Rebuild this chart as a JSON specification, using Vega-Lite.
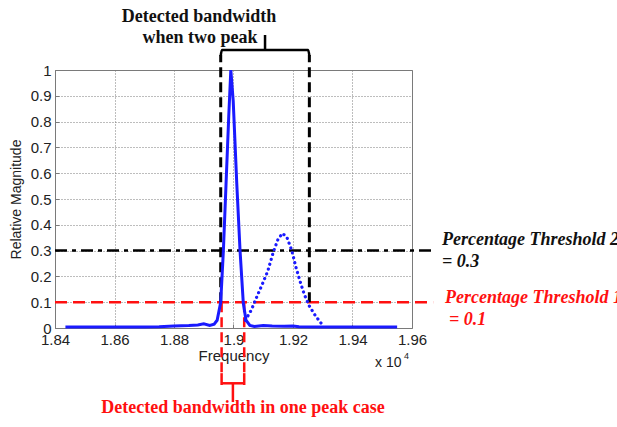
{
  "$schema": "https://vega.github.io/schema/vega-lite/v6.json",
  "width": 357,
  "height": 258,
  "autosize": {"type": "none"},
  "padding": {"left": 55, "top": 70, "right": 205, "bottom": 99},
  "background": "white",
  "config": {
    "view": {"stroke": "#7a7a7a", "strokeWidth": 1},
    "font": "Liberation Sans"
  },
  "datasets": {
    "main": [
      {"f": 1.8435, "v": 0.004}, {"f": 1.85, "v": 0.004}, {"f": 1.86, "v": 0.004},
      {"f": 1.87, "v": 0.004}, {"f": 1.875, "v": 0.005}, {"f": 1.88, "v": 0.008},
      {"f": 1.885, "v": 0.01}, {"f": 1.888, "v": 0.012}, {"f": 1.89, "v": 0.016},
      {"f": 1.892, "v": 0.01}, {"f": 1.8935, "v": 0.015}, {"f": 1.8945, "v": 0.03},
      {"f": 1.8957, "v": 0.1}, {"f": 1.8966, "v": 0.3}, {"f": 1.8975, "v": 0.56},
      {"f": 1.8984, "v": 0.82}, {"f": 1.8991, "v": 1.0}, {"f": 1.8999, "v": 0.88},
      {"f": 1.9011, "v": 0.56}, {"f": 1.9022, "v": 0.3}, {"f": 1.9033, "v": 0.096},
      {"f": 1.9042, "v": 0.03}, {"f": 1.9055, "v": 0.01}, {"f": 1.907, "v": 0.006},
      {"f": 1.91, "v": 0.01}, {"f": 1.913, "v": 0.008}, {"f": 1.917, "v": 0.007},
      {"f": 1.92, "v": 0.008}, {"f": 1.922, "v": 0.005}, {"f": 1.93, "v": 0.004},
      {"f": 1.94, "v": 0.004}, {"f": 1.955, "v": 0.004}
    ],
    "dotted": [
      {"f": 1.904, "v": 0.03}, {"f": 1.906, "v": 0.07}, {"f": 1.9078, "v": 0.12},
      {"f": 1.9095, "v": 0.165}, {"f": 1.9115, "v": 0.22}, {"f": 1.9134, "v": 0.295},
      {"f": 1.915, "v": 0.345}, {"f": 1.9165, "v": 0.367}, {"f": 1.918, "v": 0.35},
      {"f": 1.9196, "v": 0.3}, {"f": 1.921, "v": 0.235}, {"f": 1.9224, "v": 0.18},
      {"f": 1.9238, "v": 0.13}, {"f": 1.9255, "v": 0.085}, {"f": 1.9274, "v": 0.05},
      {"f": 1.929, "v": 0.025}, {"f": 1.9302, "v": 0.008}
    ],
    "thr2": [{"f": 1.84, "f2": 1.9671, "v": 0.3}],
    "thr1": [{"f": 1.84, "f2": 1.9671, "v": 0.1}],
    "blackV": [
      {"f": 1.8957, "v": 0.1, "v2": 1.058},
      {"f": 1.9255, "v": 0.1, "v2": 1.058}
    ],
    "blackBracket": [
      {"o": 1, "f": 1.8957, "v": 1.055},
      {"o": 2, "f": 1.8961, "v": 1.0775},
      {"o": 3, "f": 1.9251, "v": 1.0775},
      {"o": 4, "f": 1.9255, "v": 1.055}
    ],
    "blackStem": [{"f": 1.9106, "v": 1.0775, "v2": 1.1357}],
    "redV": [
      {"f": 1.896, "v": 0.1, "v2": -0.175},
      {"f": 1.9036, "v": 0.1, "v2": -0.175}
    ],
    "redBracketEnds": [
      {"f": 1.896, "v": -0.175, "v2": -0.221},
      {"f": 1.9036, "v": -0.175, "v2": -0.221}
    ],
    "redBracketBar": [{"f": 1.896, "f2": 1.9036, "v": -0.2143}],
    "redStem": [{"f": 1.8998, "v": -0.2143, "v2": -0.287}],
    "topText": [
      {"f": 1.8884, "v": 1.2054, "t": "Detected bandwidth"},
      {"f": 1.8887, "v": 1.124, "t": "when two peak"}
    ],
    "blackLabels": [
      {"f": 1.9701, "v": 0.341, "t": "Percentage Threshold 2"},
      {"f": 1.9701, "v": 0.256, "t": "= 0.3"}
    ],
    "redLabels": [
      {"f": 1.9711, "v": 0.116, "t": "Percentage Threshold 1"},
      {"f": 1.9724, "v": 0.031, "t": "= 0.1"}
    ],
    "bottomText": [{"f": 1.9032, "v": -0.31, "t": "Detected bandwidth in one peak case"}],
    "expText": [{"f": 1.9476, "v": -0.1357, "t": "x 10"}],
    "expSup": [{"f": 1.9573, "v": -0.1085, "t": "4"}]
  },
  "encoding": {
    "x": {
      "field": "f", "type": "quantitative",
      "scale": {"domain": [1.84, 1.96], "nice": false, "zero": false},
      "axis": {
        "values": [1.84, 1.86, 1.88, 1.9, 1.92, 1.94, 1.96],
        "format": "~g", "title": "Frequency",
        "grid": true, "gridDash": [1, 2], "gridColor": "#7a7a7a", "gridOpacity": 1,
        "domain": false, "tickSize": -4, "tickColor": "#7a7a7a",
        "labelFont": "Liberation Sans", "labelFontSize": 15, "labelColor": "#222222",
        "labelPadding": 8, "labelFlush": false, "labelOverlap": false,
        "titleFont": "Liberation Sans", "titleFontSize": 15, "titleFontWeight": "normal",
        "titleColor": "#222222", "titlePadding": 1
      }
    },
    "y": {
      "field": "v", "type": "quantitative",
      "scale": {"domain": [0, 1], "nice": false, "zero": false},
      "axis": {
        "values": [0, 0.1, 0.2, 0.3, 0.4, 0.5, 0.6, 0.7, 0.8, 0.9, 1],
        "format": "~g", "title": "Relative Magnitude",
        "grid": true, "gridDash": [1, 2], "gridColor": "#7a7a7a", "gridOpacity": 1,
        "domain": false, "tickSize": -4, "tickColor": "#7a7a7a",
        "labelFont": "Liberation Sans", "labelFontSize": 15, "labelColor": "#222222",
        "labelPadding": 8, "labelFlush": false, "labelOverlap": false,
        "titleFont": "Liberation Sans", "titleFontSize": 14, "titleFontWeight": "normal",
        "titleColor": "#222222", "titlePadding": 7
      }
    }
  },
  "layer": [
    {
      "data": {"name": "thr2"},
      "mark": {"type": "rule", "color": "#000000", "strokeWidth": 2.5, "strokeDash": [12, 5, 4, 5]},
      "encoding": {"x2": {"field": "f2"}}
    },
    {
      "data": {"name": "thr1"},
      "mark": {"type": "rule", "color": "#ff1010", "strokeWidth": 2.5, "strokeDash": [12, 6]},
      "encoding": {"x2": {"field": "f2"}}
    },
    {
      "data": {"name": "blackV"},
      "mark": {"type": "rule", "color": "#000000", "strokeWidth": 3, "strokeDash": [10, 5]},
      "encoding": {"y2": {"field": "v2"}}
    },
    {
      "data": {"name": "blackBracket"},
      "mark": {"type": "line", "color": "#000000", "strokeWidth": 2.5, "interpolate": "monotone"},
      "encoding": {"order": {"field": "o"}}
    },
    {
      "data": {"name": "blackStem"},
      "mark": {"type": "rule", "color": "#000000", "strokeWidth": 2.5},
      "encoding": {"y2": {"field": "v2"}}
    },
    {
      "data": {"name": "redV"},
      "mark": {"type": "rule", "color": "#ff1010", "strokeWidth": 2.5, "strokeDash": [10, 5]},
      "encoding": {"y2": {"field": "v2"}}
    },
    {
      "data": {"name": "redBracketEnds"},
      "mark": {"type": "rule", "color": "#ff1010", "strokeWidth": 2.5},
      "encoding": {"y2": {"field": "v2"}}
    },
    {
      "data": {"name": "redBracketBar"},
      "mark": {"type": "rule", "color": "#ff1010", "strokeWidth": 2.5},
      "encoding": {"x2": {"field": "f2"}}
    },
    {
      "data": {"name": "redStem"},
      "mark": {"type": "rule", "color": "#ff1010", "strokeWidth": 2.5},
      "encoding": {"y2": {"field": "v2"}}
    },
    {
      "data": {"name": "dotted"},
      "mark": {"type": "line", "color": "#1a1aff", "strokeWidth": 3.2, "strokeDash": [0.1, 5], "strokeCap": "round"},
      "encoding": {}
    },
    {
      "data": {"name": "main"},
      "mark": {"type": "line", "color": "#1a1aff", "strokeWidth": 3},
      "encoding": {}
    },
    {
      "data": {"name": "topText"},
      "mark": {"type": "text", "font": "Liberation Serif", "fontWeight": "bold", "fontSize": 18, "align": "center", "baseline": "middle", "color": "#111111"},
      "encoding": {"text": {"field": "t"}}
    },
    {
      "data": {"name": "blackLabels"},
      "mark": {"type": "text", "font": "Liberation Serif", "fontWeight": "bold", "fontStyle": "italic", "fontSize": 18, "align": "left", "baseline": "middle", "color": "#111111"},
      "encoding": {"text": {"field": "t"}}
    },
    {
      "data": {"name": "redLabels"},
      "mark": {"type": "text", "font": "Liberation Serif", "fontWeight": "bold", "fontStyle": "italic", "fontSize": 18, "align": "left", "baseline": "middle", "color": "#ff1010"},
      "encoding": {"text": {"field": "t"}}
    },
    {
      "data": {"name": "bottomText"},
      "mark": {"type": "text", "font": "Liberation Serif", "fontWeight": "bold", "fontSize": 18, "align": "center", "baseline": "middle", "color": "#ff1010"},
      "encoding": {"text": {"field": "t"}}
    },
    {
      "data": {"name": "expText"},
      "mark": {"type": "text", "font": "Liberation Sans", "fontSize": 14, "align": "left", "baseline": "middle", "color": "#222222"},
      "encoding": {"text": {"field": "t"}}
    },
    {
      "data": {"name": "expSup"},
      "mark": {"type": "text", "font": "Liberation Sans", "fontSize": 9, "align": "left", "baseline": "middle", "color": "#222222"},
      "encoding": {"text": {"field": "t"}}
    }
  ]
}
